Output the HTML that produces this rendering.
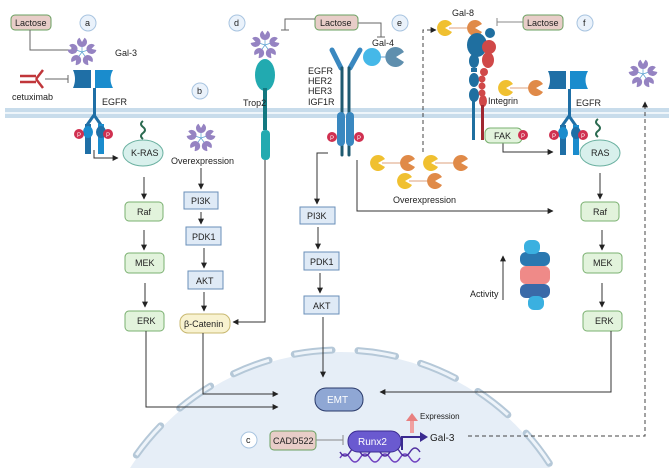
<!DOCTYPE html>
<html><head><meta charset="utf-8"><style>
html,body{margin:0;padding:0;background:#fff;overflow:hidden}
svg{display:block;font-family:"Liberation Sans",sans-serif}
text{font-size:9px;fill:#222}
</style></head><body>
<svg width="669" height="468" viewBox="0 0 669 468" xmlns="http://www.w3.org/2000/svg">
<defs>
<marker id="ar" viewBox="0 0 10 10" refX="9" refY="5" markerWidth="6" markerHeight="6" orient="auto"><path d="M0,0 L10,5 L0,10 z" fill="#222"/></marker>
<path id="pac" d="M0,0 L4.3,-2.5 A5,5 0 1 0 4.3,2.5 Z"/>
<g id="g3">
 <g stroke="#5aa0d0" stroke-width="0.7"><line x1="0" y1="0" x2="0" y2="-8"/><line x1="0" y1="0" x2="7.6" y2="-2.5"/><line x1="0" y1="0" x2="4.7" y2="6.5"/><line x1="0" y1="0" x2="-4.7" y2="6.5"/><line x1="0" y1="0" x2="-7.6" y2="-2.5"/></g>
 <g fill="#9583c2">
 <use href="#pac" transform="rotate(-90) translate(10,0)"/>
 <use href="#pac" transform="rotate(-18) translate(10,0)"/>
 <use href="#pac" transform="rotate(54) translate(10,0)"/>
 <use href="#pac" transform="rotate(126) translate(10,0)"/>
 <use href="#pac" transform="rotate(198) translate(10,0)"/>
 </g>
</g>
<g id="g8">
 <line x1="-10" y1="0" x2="10" y2="0" stroke="#d08050" stroke-width="0.8"/>
 <path d="M-14,0 L-7,-4 A8,8 0 1 0 -7,4 Z" fill="#f0c030"/>
 <path d="M16,0 L23,-4 A8,8 0 1 0 23,4 Z" fill="#e08a48"/>
</g>
<g id="egfr">
 <path d="M-22,-9 h18 v18 h-18 q4,-9 0,-18z" fill="#1f6fa6"/>
 <path d="M0,-9 h18 q-5,9 0,18 h-18z" fill="#1a8ccd"/>
 <rect x="-2" y="9" width="3" height="28" fill="#1f6fa6"/>
 <path d="M-1,36 L-8,46 M-1,36 L6,46" stroke="#1f6fa6" stroke-width="3" fill="none"/>
 <rect x="-10" y="45" width="6" height="30" fill="#1f6fa6"/>
 <rect x="3" y="45" width="6" height="30" fill="#1a8ccd"/>
 <ellipse cx="-7" cy="53" rx="5" ry="6" fill="#1a8ccd"/>
 <ellipse cx="6" cy="53" rx="5" ry="6" fill="#1f6fa6"/>
 <circle cx="-16" cy="55" r="5" fill="#d03050"/><text x="-18" y="58" style="font-size:6px;fill:#fff">P</text>
 <circle cx="13" cy="55" r="5" fill="#d03050"/><text x="11" y="58" style="font-size:6px;fill:#fff">P</text>
</g>
</defs>

<!-- nucleus -->
<circle cx="340" cy="600" r="248" fill="#e6eef7"/>
<circle cx="340" cy="600" r="250" fill="none" stroke="#b5c8d8" stroke-width="7" stroke-dasharray="38 26" stroke-linecap="round" stroke-dashoffset="20"/>
<circle cx="340" cy="600" r="250" fill="none" stroke="#eef4fa" stroke-width="3" stroke-dasharray="38 26" stroke-dashoffset="20"/>

<!-- membrane -->
<rect x="5" y="108" width="664" height="10" fill="#c8dceb"/>
<line x1="5" y1="113" x2="669" y2="113" stroke="#eef5fa" stroke-width="2"/>

<!-- a -->
<rect x="11" y="15" width="40" height="15" rx="4" fill="#e8cdc8" stroke="#6aa060"/>
<text x="15" y="26">Lactose</text>
<circle cx="88" cy="23" r="8" fill="#eaf2fb" stroke="#a8c4e0"/><text x="85" y="26">a</text>
<path d="M30,30 V50 H72" fill="none" stroke="#666"/><line x1="72" y1="46" x2="72" y2="54" stroke="#666"/>
<use href="#g3" x="82" y="52"/>
<text x="115" y="56">Gal-3</text>
<g stroke="#c0363a" stroke-width="2.5"><line x1="20" y1="76" x2="36" y2="76"/><line x1="20" y1="82" x2="36" y2="82"/><line x1="36" y1="79" x2="43" y2="70"/><line x1="36" y1="79" x2="43" y2="88"/></g>
<line x1="45" y1="79" x2="68" y2="79" stroke="#666"/><line x1="68" y1="75" x2="68" y2="83" stroke="#666"/>
<text x="12" y="100">cetuximab</text>
<use href="#egfr" x="95" y="79"/>
<text x="102" y="105">EGFR</text>
<path d="M94,150 V158 H118" fill="none" stroke="#333" marker-end="url(#ar)"/>
<path d="M143,139 q-4,-3 0,-6 q4,-3 0,-6 q-4,-3 0,-6" fill="none" stroke="#2a6a50" stroke-width="2"/>
<ellipse cx="143" cy="153" rx="20" ry="13" fill="#d8f0ec" stroke="#6ab0a0"/><text x="131" y="156">K-RAS</text>
<g fill="#e2f3dc" stroke="#7ab070">
<rect x="125" y="202" width="38" height="19" rx="4"/><rect x="125" y="253" width="39" height="20" rx="4"/><rect x="125" y="311" width="39" height="20" rx="4"/>
<rect x="581" y="202" width="38" height="19" rx="4"/><rect x="583" y="253" width="39" height="20" rx="4"/><rect x="583" y="311" width="39" height="20" rx="4"/>
</g>
<text x="137" y="215">Raf</text><text x="135" y="266">MEK</text><text x="137" y="324">ERK</text>
<text x="593" y="215">Raf</text><text x="593" y="266">MEK</text><text x="595" y="324">ERK</text>
<g stroke="#333" marker-end="url(#ar)">
<line x1="144" y1="177" x2="144" y2="199"/><line x1="144" y1="230" x2="144" y2="250"/><line x1="145" y1="283" x2="145" y2="307"/>
<line x1="600" y1="173" x2="600" y2="199"/><line x1="602" y1="230" x2="602" y2="250"/><line x1="602" y1="283" x2="602" y2="307"/>
</g>

<!-- b -->
<circle cx="200" cy="91" r="8" fill="#eaf2fb" stroke="#a8c4e0"/><text x="197" y="94">b</text>
<use href="#g3" x="201" y="138"/>
<text x="171" y="164">Overexpression</text>
<g fill="#dfeaf6" stroke="#6a8fb8">
<rect x="184" y="192" width="34" height="17"/><rect x="186" y="227" width="35" height="18"/><rect x="188" y="271" width="35" height="18"/>
<rect x="300" y="207" width="35" height="17"/><rect x="304" y="252" width="35" height="18"/><rect x="304" y="296" width="35" height="18"/>
</g>
<text x="191" y="204">PI3K</text><text x="192" y="240">PDK1</text><text x="196" y="284">AKT</text>
<text x="307" y="219">PI3K</text><text x="310" y="265">PDK1</text><text x="313" y="309">AKT</text>
<rect x="180" y="314" width="50" height="19" rx="8" fill="#f8f2d0" stroke="#c8b870"/><text x="184" y="327">β-Catenin</text>
<g stroke="#333" marker-end="url(#ar)">
<line x1="201" y1="168" x2="201" y2="189"/><line x1="201" y1="212" x2="201" y2="224"/><line x1="204" y1="248" x2="204" y2="268"/><line x1="204" y1="292" x2="204" y2="311"/>
<line x1="318" y1="227" x2="318" y2="249"/><line x1="320" y1="273" x2="320" y2="293"/>
<polyline points="323,317 323,377" fill="none"/>
<polyline points="265,160 265,322 233,322" fill="none"/>
<polyline points="203,333 203,394 278,394" fill="none"/>
<polyline points="146,331 146,407 278,407" fill="none"/>
<polyline points="611,331 611,392 380,392" fill="none"/>
<polyline points="328,153 317,153 317,204" fill="none"/>
<polyline points="357,160 357,211 553,211" fill="none"/>
<polyline points="503,140 503,152 553,152" fill="none"/>
<line x1="503" y1="300" x2="503" y2="256"/>
</g>

<!-- d -->
<circle cx="237" cy="23" r="8" fill="#eaf2fb" stroke="#a8c4e0"/><text x="234" y="26">d</text>
<use href="#g3" x="265" y="45"/>
<ellipse cx="265" cy="75" rx="10" ry="16" fill="#22aab0"/>
<rect x="263" y="88" width="4" height="42" fill="#137880"/>
<rect x="261" y="130" width="9" height="30" rx="4" fill="#22aab0"/>
<text x="243" y="106">Trop2</text>
<rect x="315" y="15" width="43" height="15" rx="4" fill="#e8cdc8" stroke="#6aa060"/><text x="320" y="26">Lactose</text>
<path d="M315,19 H285 V30" fill="none" stroke="#666"/><line x1="281" y1="30" x2="289" y2="30" stroke="#666"/>
<path d="M358,23 H381 V37" fill="none" stroke="#666"/><line x1="377" y1="37" x2="385" y2="37" stroke="#666"/>
<circle cx="400" cy="23" r="8" fill="#eaf2fb" stroke="#a8c4e0"/><text x="397" y="26">e</text>
<text x="372" y="46">Gal-4</text>
<text x="308" y="74">EGFR</text><text x="308" y="84">HER2</text><text x="308" y="94">HER3</text><text x="308" y="105">IGF1R</text>
<!-- receptor e -->
<g stroke-linecap="round">
<line x1="332" y1="50" x2="341" y2="68" stroke="#3a88c0" stroke-width="5"/>
<line x1="360" y1="50" x2="350" y2="68" stroke="#3a88c0" stroke-width="5"/>
<line x1="342" y1="68" x2="342" y2="155" stroke="#1f5a70" stroke-width="3"/>
<line x1="349" y1="68" x2="349" y2="155" stroke="#1f5a70" stroke-width="3"/>
</g>
<rect x="337" y="112" width="8" height="34" rx="4" fill="#3a88c0"/><rect x="346" y="112" width="8" height="34" rx="4" fill="#3a88c0"/>
<circle cx="332" cy="137" r="5" fill="#d03050"/><text x="330" y="140" style="font-size:6px;fill:#fff">P</text>
<circle cx="359" cy="137" r="5" fill="#d03050"/><text x="357" y="140" style="font-size:6px;fill:#fff">P</text>
<circle cx="372" cy="57" r="9" fill="#45b8e8"/>
<line x1="380" y1="57" x2="390" y2="57" stroke="#5aa0d0"/>
<path d="M396,57 L404,52 A10,10 0 1 0 404,62 Z" fill="#5f8fae"/>

<!-- f -->
<path d="M423,152 V30 H436" fill="none" stroke="#444" stroke-dasharray="4 3" marker-end="url(#ar)"/>
<text x="452" y="16">Gal-8</text>
<use href="#g8" x="459" y="28"/>
<rect x="523" y="15" width="40" height="15" rx="4" fill="#e8cdc8" stroke="#6aa060"/><text x="527" y="26">Lactose</text>
<line x1="497" y1="22" x2="523" y2="22" stroke="#888"/><line x1="497" y1="18" x2="497" y2="26" stroke="#888"/>
<circle cx="585" cy="23" r="8" fill="#eaf2fb" stroke="#a8c4e0"/><text x="583" y="26">f</text>
<!-- integrin -->
<g fill="#1f6fa0">
<ellipse cx="477" cy="45" rx="10" ry="12"/><circle cx="490" cy="33" r="5"/><ellipse cx="474" cy="61" rx="5" ry="7"/><rect x="471" y="68" width="6" height="4"/><ellipse cx="474" cy="80" rx="5" ry="7"/><ellipse cx="474" cy="95" rx="5" ry="7"/><rect x="472" y="100" width="3" height="40"/>
</g>
<g fill="#d04848">
<circle cx="489" cy="47" r="7"/><ellipse cx="488" cy="60" rx="6" ry="8"/><circle cx="484" cy="72" r="4"/><circle cx="482" cy="79" r="3.5"/><circle cx="482" cy="86" r="3.5"/><circle cx="482" cy="93" r="3.5"/><ellipse cx="483" cy="101" rx="4" ry="6"/><rect x="481" y="105" width="3" height="35" fill="#a02830"/>
</g>
<text x="488" y="104">Integrin</text>
<rect x="485" y="128" width="37" height="15" rx="5" fill="#e2f3dc" stroke="#7ab070"/><text x="494" y="139">FAK</text>
<circle cx="523" cy="135" r="5" fill="#d03050"/><text x="521" y="138" style="font-size:6px;fill:#fff">P</text>
<use href="#g8" x="520" y="88"/>
<use href="#egfr" x="570" y="80"/>
<text x="576" y="106">EGFR</text>
<path d="M598,137 q-4,-3 0,-6 q4,-3 0,-6 q-4,-3 0,-6" fill="none" stroke="#2a6a50" stroke-width="2"/>
<ellipse cx="600" cy="153" rx="20" ry="13" fill="#d8f0ec" stroke="#6ab0a0"/><text x="591" y="156">RAS</text>
<use href="#g3" x="643" y="74"/>
<path d="M468,436 H645 V102" fill="none" stroke="#444" stroke-dasharray="4 3" marker-end="url(#ar)"/>

<!-- overexpression gal-8 -->
<use href="#g8" x="392" y="163"/><use href="#g8" x="445" y="163"/><use href="#g8" x="419" y="181"/>
<text x="393" y="203">Overexpression</text>

<!-- proteasome -->
<g>
<rect x="520" y="252" width="30" height="14" rx="6" fill="#2a78b0"/>
<rect x="520" y="266" width="30" height="18" rx="6" fill="#ef8a88"/>
<rect x="520" y="284" width="30" height="14" rx="6" fill="#3a6aa8"/>
<rect x="524" y="240" width="16" height="14" rx="6" fill="#3ab0e0"/>
<rect x="528" y="296" width="16" height="14" rx="6" fill="#3ab0e0"/>
</g>
<text x="470" y="297">Activity</text>

<!-- nucleus content -->
<rect x="315" y="388" width="48" height="23" rx="11" fill="#8fa7d4" stroke="#2a3a6a"/><text x="327" y="403" style="font-size:10px;fill:#fff">EMT</text>
<circle cx="249" cy="440" r="8" fill="#fff" stroke="#a8c4e0"/><text x="246" y="443">c</text>
<rect x="270" y="431" width="46" height="19" rx="4" fill="#e8cdc8" stroke="#6aa060"/><text x="273" y="444">CADD522</text>
<line x1="316" y1="440" x2="343" y2="440" stroke="#888"/><line x1="343" y1="435" x2="343" y2="445" stroke="#888"/>
<path d="M340,458 q5,-8 10,0 t10,0 t10,0 t10,0 t10,0 t10,0 t10,0 t10,0" fill="none" stroke="#7040c0" stroke-width="1.5"/>
<path d="M340,452 q5,8 10,0 t10,0 t10,0 t10,0 t10,0 t10,0 t10,0 t10,0" fill="none" stroke="#5030a0" stroke-width="1.5"/>
<rect x="348" y="431" width="53" height="21" rx="10" fill="#6a5ad0" stroke="#3a2a90"/><text x="358" y="445" style="font-size:10px;fill:#fff">Runx2</text>
<path d="M402,450 V437 H422" fill="none" stroke="#3a2a90" stroke-width="2"/><path d="M420,432 L428,437 L420,442z" fill="#3a2a90"/>
<rect x="410" y="420" width="4" height="13" fill="#f0a0a0"/><path d="M406,421 L412,413 L418,421z" fill="#e88080"/>
<text x="420" y="419" style="font-size:8px">Expression</text>
<text x="430" y="441" style="font-size:10px">Gal-3</text>
</svg>
</body></html>
